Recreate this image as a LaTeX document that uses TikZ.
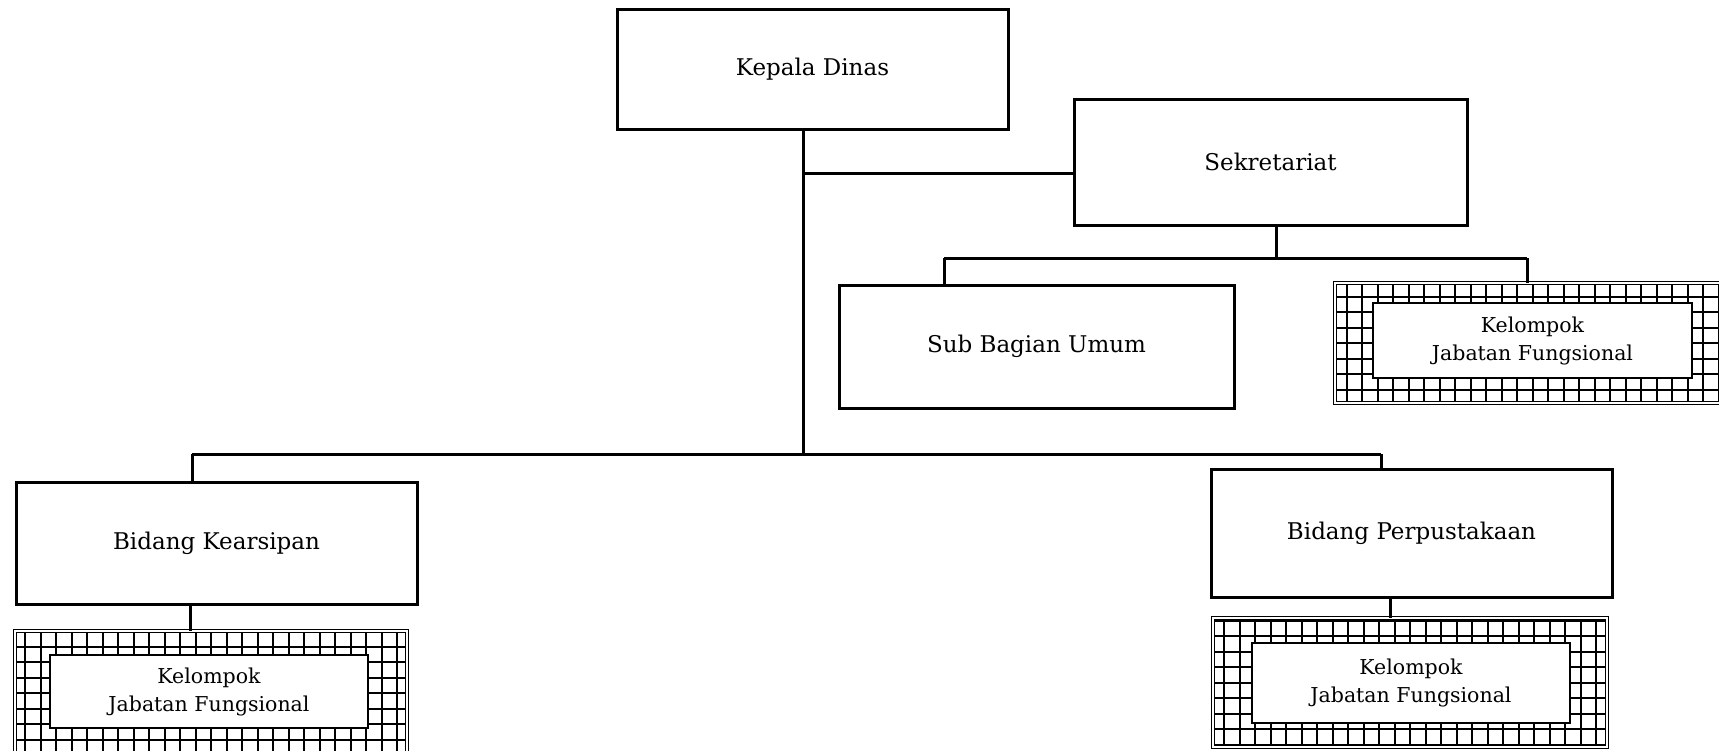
\documentclass[tikz,border=0pt]{standalone}
\usepackage{fontspec}
\setmainfont{DejaVu Serif}
\begin{document}
\begin{tikzpicture}[x=1pt,y=-1pt,
  box/.style={draw=black, line width=3pt, fill=white, inner sep=0pt,
    font=\fontsize{23}{27}\selectfont},
  innerbox/.style={draw=black, line width=2.5pt, fill=white, inner sep=0pt, align=center,
    font=\fontsize{20.5}{28}\selectfont},
  gridframe/.style={draw=black, line width=1pt, double=white, double distance=2pt, inner sep=0pt,
    path picture={\draw[line width=2pt] (path picture bounding box.south west) grid[step=15.5pt] (path picture bounding box.north east);}},
  link/.style={draw=black, line width=3pt}]
\useasboundingbox (0,0) rectangle (1719,750);
\clip (0,0) rectangle (1719,750);
\fill[white] (0,0) rectangle (1719,750);
% grid frames
\node[gridframe, minimum width=395pt, minimum height=120pt] (g1) at (1532.5,343) {};
\node[gridframe, minimum width=392pt, minimum height=124pt] (g2) at (211,693) {};
\node[gridframe, minimum width=394pt, minimum height=129pt] (g3) at (1410,682.5) {};
% boxes
\node[box, minimum width=391pt, minimum height=120pt] (kd) at (812.5,69) {Kepala Dinas};
\node[box, minimum width=393pt, minimum height=126pt] (sek) at (1270.5,162) {Sekretariat};
\node[box, minimum width=395pt, minimum height=123pt] (sbu) at (1036.5,346.5) {Sub Bagian Umum};
\node[innerbox, minimum width=319pt, minimum height=75pt] (kjf1) at (1532.5,340.5) {Kelompok\\Jabatan Fungsional};
\node[box, minimum width=401pt, minimum height=122pt] (bk) at (216.5,543) {Bidang Kearsipan};
\node[innerbox, minimum width=318pt, minimum height=73pt] (kjf2) at (209,691.5) {Kelompok\\Jabatan Fungsional};
\node[box, minimum width=401pt, minimum height=128pt] (bp) at (1411.5,533) {Bidang Perpustakaan};
\node[innerbox, minimum width=318pt, minimum height=80pt] (kjf3) at (1411,683) {Kelompok\\Jabatan Fungsional};
% connectors
\coordinate (t1) at (803,173);
\coordinate (t2) at (803,454);
\coordinate (s1) at (1276,258);
\coordinate (bl) at (192,454);
\coordinate (br) at (1381,454);
\coordinate (sl) at (944,258);
\coordinate (sr) at (1527,258);
\draw[link] (kd.south -| t1) -- (t2);
\draw[link] (t1) -- (t1 -| sek.west);
\draw[link] (sek.south -| s1) -- (s1);
\draw[link] (sl) -- (sr);
\draw[link] (sl) -- (sl |- sbu.north);
\draw[link] (sr) -- (sr |- g1.north);
\draw[link] (bl) -- (br);
\draw[link] (bl) -- (bl |- bk.north);
\draw[link] (br) -- (br |- bp.north);
\draw[link] (bk.south -| 190,0) -- (190,0 |- g2.north);
\draw[link] (bp.south -| 1390,0) -- (1390,0 |- g3.north);
\end{tikzpicture}
\end{document}
